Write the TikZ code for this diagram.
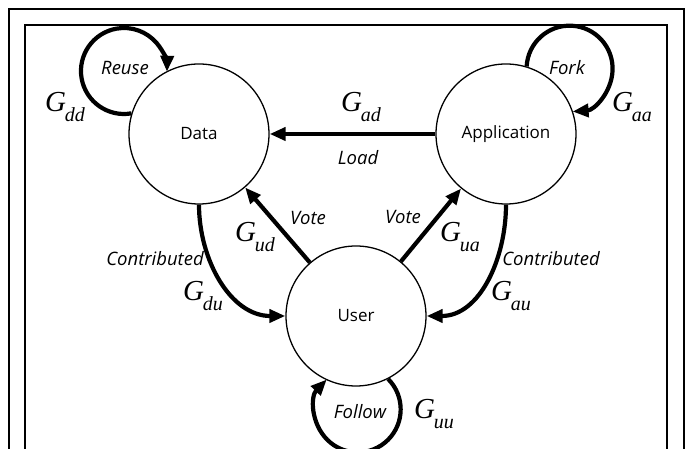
\documentclass[tikz,border=0pt]{standalone}
\usepackage{fontspec}
\setmainfont{Open Sans}
\newfontfamily\gfont{Liberation Serif}
\usetikzlibrary{arrows.meta}

%Weight of an edge, G with an italic subscript
\newcommand{\gw}[1]{{\gfont\itshape G\kern-1pt\raisebox{-0.32em}{\fontsize{20}{20}\selectfont #1}}}

\begin{document}
\begin{tikzpicture}
  [
    x=1pt, y=1pt,
    >={Triangle[length=16pt,width=13pt]},
    state/.style = {draw, circle, line width=1.3pt, minimum size=140pt, inner sep=0pt, font=\fontsize{17}{20}\selectfont},
    edge/.style  = {->, line width=4.2pt},
    word/.style  = {inner sep=0pt, font=\fontsize{18.5}{21}\selectfont\itshape},
    gain/.style  = {inner sep=0pt, font=\fontsize{29}{31}\selectfont},
    frame/.style = {line width=2.2pt},
  ]

%Size of the page
\useasboundingbox (0,0) rectangle (689,449);

%Radius of the self loops
\def \rad{43}

%Two frames, open at the bottom
\draw[frame] (9,-5) |- (684,440) -- (684,-5);
\draw[frame] (25,-5) |- (667,424) -- (667,-5);

%States
\node[state] (data) at (199,315) {Data};
\node[state] (app)  at (506,315) {Application};
\node[state] (user) at (356,133) {User};

%Edges between states
\draw[edge] (app) -- (data);
\draw[edge] (user) -- (data);
\draw[edge] (user) -- (app);
\draw[edge] (data.south) to[out=-90, in=180] (user.west);
\draw[edge] (app.south) to[out=-90, in=0] (user.east);

%Self loops
\draw[edge] (data.163) arc[start angle=-80, end angle=-361, radius=\rad];
\draw[edge] (app.73) arc[start angle=177, end angle=-86, radius=\rad];
\draw[edge] (user.-63) arc[start angle=45, end angle=-224, radius=\rad];

%Labels
\node[word] (reuse)    at (125,381) {Reuse};
\node[gain] (gdd)      at (65,342)  {\gw{dd}};
\node[word] (fork)     at (567,381) {Fork};
\node[gain] (gaa)      at (632,342) {\gw{aa}};
\node[gain] (gad)      at (361,342) {\gw{ad}};
\node[word] (load)     at (358,291) {Load};
\node[word] (voteD)    at (308,231) {Vote};
\node[gain] (gud)      at (255,212) {\gw{ud}};
\node[word] (voteA)    at (403,232) {Vote};
\node[gain] (gua)      at (460,212) {\gw{ua}};
\node[word] (contribD) at (155,190) {Contributed};
\node[gain] (gdu)      at (203,153) {\gw{du}};
\node[word] (contribA) at (551,190) {Contributed};
\node[gain] (gau)      at (511,153) {\gw{au}};
\node[word] (follow)   at (360,37)  {Follow};
\node[gain] (guu)      at (434,35)  {\gw{uu}};

%
\end{tikzpicture}
\end{document}
